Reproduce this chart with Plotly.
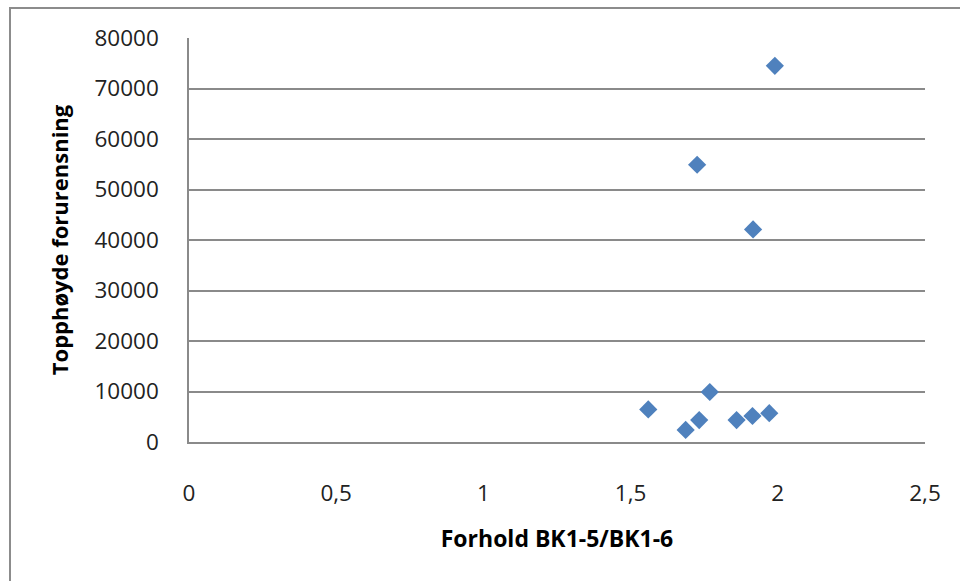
import plotly.graph_objects as go

ratio = [1.990, 1.726, 1.916, 1.560, 1.687, 1.733, 1.769, 1.860, 1.914, 1.971]
topphoyde = [74500, 54900, 42100, 6450, 2400, 4350, 9900, 4350, 5150, 5700]

x_ticks = [0, 0.5, 1, 1.5, 2, 2.5]
x_ticktext = ["0", "0,5", "1", "1,5", "2", "2,5"]
y_ticks = [0, 10000, 20000, 30000, 40000, 50000, 60000, 70000, 80000]

font_family = "Open Sans, Liberation Sans, sans-serif"

fig = go.Figure()
fig.add_trace(go.Scatter(
    x=ratio, y=topphoyde, mode="markers",
    marker=dict(symbol="diamond", size=14, color="#4F81BD", line=dict(width=0)),
    showlegend=False,
))

fig.update_layout(
    width=960, height=581,
    margin=dict(l=189, r=35, t=38, b=139),
    paper_bgcolor="white", plot_bgcolor="white",
    font=dict(family=font_family, size=22, color="#000000"),
    xaxis=dict(
        range=[0, 2.5], tickvals=x_ticks, ticktext=x_ticktext,
        showgrid=False, zeroline=False,
        showline=True, linecolor="#8a8a8a", linewidth=1.5,
        ticks="", ticklabelstandoff=30,
        tickfont=dict(size=22.5, color="#222"),
        title=dict(text="<b>Forhold BK1-5/BK1-6</b>", font=dict(size=23, color="#000"), standoff=24),
    ),
    yaxis=dict(
        range=[0, 80000], tickvals=y_ticks, tickformat="d",
        showgrid=True, gridcolor="#8a8a8a", gridwidth=1.5,
        zeroline=False,
        showline=True, linecolor="#8a8a8a", linewidth=1.5,
        ticks="", ticklabelstandoff=24,
        tickfont=dict(size=22.5, color="#222"),
        title=dict(text="<b>Topphøyde forurensning</b>", font=dict(size=22, color="#000"), standoff=20),
    ),
    shapes=[dict(
        type="rect", xref="paper", yref="paper",
        x0=(10 - 189) / 736, x1=1.3, y0=-0.6, y1=(442 - 8) / 404,
        line=dict(color="#8c8c8c", width=2), fillcolor="rgba(0,0,0,0)", layer="below",
    )],
)

fig.write_html("out.html")
